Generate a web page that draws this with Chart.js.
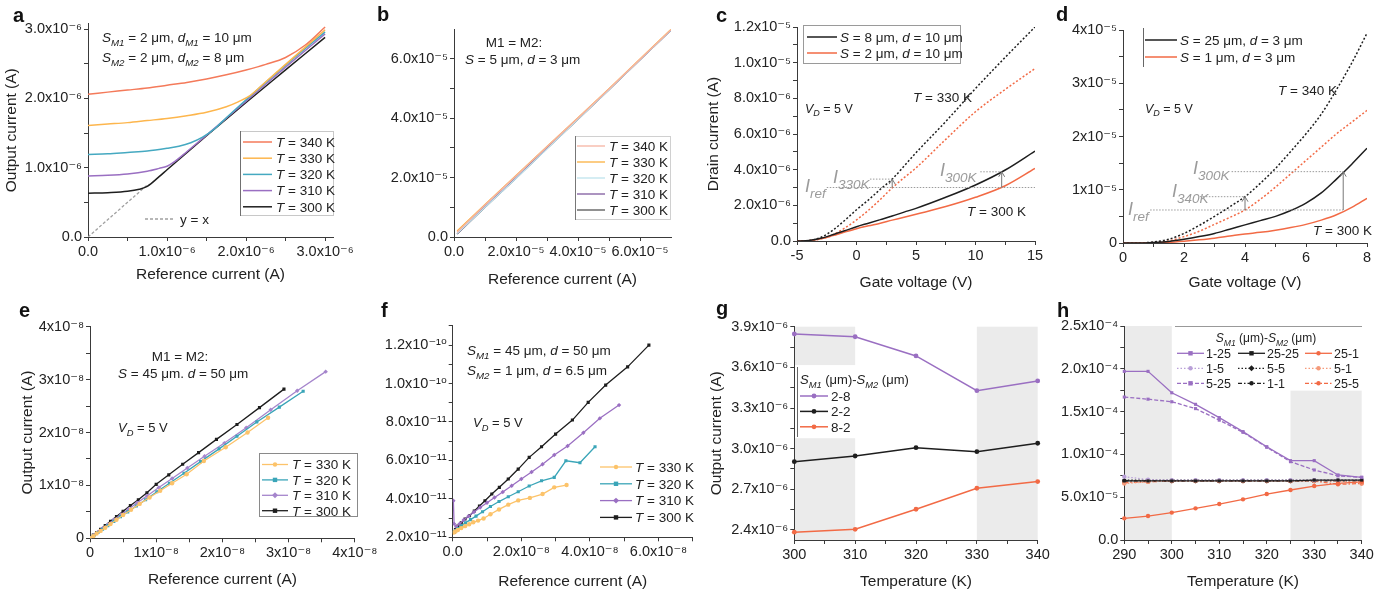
<!DOCTYPE html>
<html>
<head>
<meta charset="utf-8">
<script src="https://cdn.jsdelivr.net/npm/chart.js@4.4.1/dist/chart.umd.min.js"></script>
<style>
  html, body { margin: 0; background: #fff; }
  #wrap { position: relative; width: 1388px; height: 595px; overflow: hidden; }
  #wrap canvas { position: absolute; left: 0; top: 0; }
</style>
</head>
<body>
<div id="wrap"></div>
<script>
// ---- data ----
// a: current mirror, x and y in units of 1e-6 A
const aTemps = ['340', '330', '320', '310', '300'];
const aX340 = [0, 0.25, 0.5, 0.75, 1.0, 1.25, 1.5, 1.75, 2.0, 2.25, 2.5, 2.75, 3.0];
const aY340 = [2.06, 2.09, 2.12, 2.15, 2.19, 2.23, 2.28, 2.34, 2.41, 2.49, 2.59, 2.77, 3.03];
const aX330 = [0, 0.25, 0.5, 0.75, 1.0, 1.25, 1.5, 1.75, 1.9, 2.05, 2.25, 2.5, 2.75, 3.0];
const aY330 = [1.61, 1.63, 1.65, 1.68, 1.71, 1.75, 1.8, 1.88, 1.95, 2.04, 2.24, 2.49, 2.74, 2.99];
const aX320 = [0, 0.25, 0.5, 0.75, 1.0, 1.15, 1.3, 1.45, 1.6, 1.75, 2.0, 2.5, 3.0];
const aY320 = [1.19, 1.2, 1.22, 1.24, 1.28, 1.31, 1.36, 1.44, 1.56, 1.72, 1.98, 2.48, 2.96];
const aX310 = [0, 0.25, 0.5, 0.75, 0.9, 1.0, 1.1, 1.25, 1.5, 2.0, 2.5, 3.0];
const aY310 = [0.88, 0.89, 0.91, 0.95, 0.99, 1.02, 1.09, 1.23, 1.47, 1.96, 2.45, 2.93];
const aX300 = [0, 0.25, 0.5, 0.65, 0.75, 0.9, 1.0, 1.5, 2.0, 2.5, 3.0];
const aY300 = [0.63, 0.64, 0.66, 0.69, 0.73, 0.87, 0.97, 1.46, 1.94, 2.41, 2.88];
const aXref = [0, 0.75];
const aYref = [0, 0.75];

// b: units of 1e-5 A
const bX = [0.1, 1, 2, 3, 4, 5, 6, 7];
const bY340 = [0.16, 1.08, 2.06, 3.04, 4.01, 4.99, 5.99, 6.99];
const bY330 = [0.2, 1.1, 2.07, 3.05, 4.02, 5.0, 6.0, 7.0];
const bY320 = [0.12, 1.0, 1.97, 2.97, 3.97, 4.96, 5.97, 6.97];
const bY310 = [0.11, 1.02, 1.99, 2.99, 3.98, 4.97, 5.97, 6.97];
const bY300 = [0.1, 1.0, 1.98, 2.98, 3.97, 4.96, 5.97, 6.97];

// c: gate voltage (V) vs drain current (1e-6 A)
const cX = [-5, -4, -3, -2, -1, 0, 1, 2, 3, 4, 5, 7.5, 10, 12.5, 15];
const cY8hot = [0, 0.03, 0.2, 0.6, 1.15, 1.75, 2.3, 2.9, 3.47, 4.2, 4.95, 6.7, 8.55, 10.3, 12.0];
const cY2hot = [0, 0.02, 0.12, 0.35, 0.72, 1.18, 1.72, 2.33, 2.98, 3.55, 4.1, 5.7, 7.25, 8.5, 9.67];
const cY8cold = [0, 0.03, 0.15, 0.35, 0.57, 0.8, 1.0, 1.2, 1.4, 1.62, 1.83, 2.45, 3.14, 3.98, 5.04];
const cY2cold = [0, 0.02, 0.12, 0.3, 0.5, 0.69, 0.85, 1.0, 1.17, 1.33, 1.5, 1.93, 2.45, 3.1, 4.07];
const cGuides = [[-2.5, 15, 3.0], [1.13, 3.0, 3.47], [10.4, 12.2, 3.88]];
const cArrows = [[3.0, 3.0, 3.47], [12.2, 3.0, 3.88]];

// d: gate voltage (V) vs drain current (1e-5 A)
const dX = [0, 0.5, 1, 1.5, 2, 2.5, 3, 3.5, 4, 4.5, 5, 5.5, 6, 6.5, 7, 7.5, 8];
const dY25hot = [0, 0, 0.02, 0.07, 0.18, 0.33, 0.5, 0.68, 0.87, 1.12, 1.4, 1.72, 2.05, 2.42, 2.88, 3.38, 3.94];
const dY1hot = [0, 0, 0.01, 0.04, 0.12, 0.22, 0.35, 0.48, 0.62, 0.82, 1.05, 1.3, 1.55, 1.8, 2.05, 2.27, 2.49];
const dY25cold = [0, 0, 0.01, 0.03, 0.07, 0.12, 0.18, 0.26, 0.34, 0.42, 0.5, 0.61, 0.75, 0.94, 1.2, 1.48, 1.78];
const dY1cold = [0, 0, 0.005, 0.015, 0.035, 0.06, 0.09, 0.13, 0.17, 0.2, 0.24, 0.29, 0.35, 0.43, 0.53, 0.67, 0.84];
const dGuides = [[0.89, 7.22, 0.62], [2.52, 4.0, 0.87], [3.56, 7.22, 1.34]];
const dArrows = [[4.0, 0.62, 0.87], [7.22, 0.62, 1.34]];

// e: units of 1e-8 A
const eTemps = ['330', '320', '310', '300'];
const eX330 = [0, 0.05, 0.1, 0.16, 0.23, 0.31, 0.4, 0.5, 0.62, 0.75, 0.9, 1.06, 1.24, 1.46, 1.72, 2.05, 2.38, 2.69];
const eY330 = [0, 0.04, 0.09, 0.14, 0.2, 0.27, 0.35, 0.44, 0.54, 0.65, 0.77, 0.9, 1.04, 1.21, 1.46, 1.72, 2.0, 2.28];
const eX320 = [0, 0.06, 0.12, 0.19, 0.27, 0.36, 0.46, 0.57, 0.7, 0.84, 1.01, 1.2, 1.42, 1.67, 1.95, 2.22, 2.52, 2.86, 3.22];
const eY320 = [0, 0.05, 0.11, 0.17, 0.24, 0.32, 0.41, 0.5, 0.61, 0.73, 0.88, 1.04, 1.23, 1.45, 1.69, 1.93, 2.2, 2.48, 2.78];
const eX310 = [0, 0.06, 0.12, 0.19, 0.27, 0.36, 0.47, 0.58, 0.71, 0.86, 1.04, 1.24, 1.47, 1.73, 2.03, 2.36, 2.73, 3.13, 3.56];
const eY310 = [0, 0.06, 0.12, 0.19, 0.26, 0.35, 0.45, 0.55, 0.67, 0.8, 0.96, 1.13, 1.33, 1.55, 1.8, 2.09, 2.43, 2.79, 3.15];
const eX300 = [0, 0.05, 0.1, 0.16, 0.23, 0.31, 0.4, 0.5, 0.61, 0.73, 0.86, 1.0, 1.19, 1.4, 1.64, 1.91, 2.22, 2.56, 2.93];
const eY300 = [0, 0.06, 0.11, 0.17, 0.24, 0.32, 0.41, 0.51, 0.62, 0.73, 0.86, 1.02, 1.2, 1.4, 1.62, 1.87, 2.15, 2.47, 2.82];

// f: x in 1e-8 A, y in 1e-11 A
const fX330 = [0.03, 0.08, 0.15, 0.25, 0.36, 0.48, 0.6, 0.74, 0.9, 1.1, 1.35, 1.62, 1.91, 2.25, 2.62, 2.96, 3.32];
const fY330 = [2.25, 2.3, 2.38, 2.48, 2.58, 2.68, 2.78, 2.87, 2.98, 3.2, 3.45, 3.7, 3.92, 4.05, 4.25, 4.6, 4.72];
const fX320 = [0.03, 0.08, 0.15, 0.25, 0.37, 0.52, 0.68, 0.87, 1.1, 1.35, 1.62, 1.91, 2.23, 2.59, 2.96, 3.3, 3.71, 4.15];
const fY320 = [2.3, 2.35, 2.45, 2.6, 2.75, 2.92, 3.1, 3.33, 3.6, 3.86, 4.11, 4.37, 4.67, 4.94, 5.12, 5.98, 5.88, 6.71];
const fX310 = [0.02, 0.04, 0.1, 0.2, 0.32, 0.46, 0.62, 0.8, 1.0, 1.22, 1.46, 1.72, 2.0, 2.3, 2.62, 2.96, 3.35, 3.81, 4.29, 4.85];
const fY310 = [3.9, 2.7, 2.55, 2.7, 2.9, 3.1, 3.32, 3.55, 3.8, 4.07, 4.36, 4.68, 5.03, 5.4, 5.8, 6.28, 6.75, 7.44, 8.19, 8.88];
const fX300 = [0.04, 0.08, 0.15, 0.25, 0.36, 0.49, 0.63, 0.78, 0.94, 1.14, 1.36, 1.62, 1.91, 2.23, 2.59, 3.0, 3.49, 3.95, 4.46, 5.1, 5.72];
const fY300 = [2.25, 2.4, 2.58, 2.75, 2.95, 3.12, 3.37, 3.63, 3.9, 4.25, 4.6, 5.03, 5.55, 6.16, 6.71, 7.37, 8.1, 9.02, 9.92, 10.87, 12.0];

// g: temperature (K) vs output current (1e-6 A)
const gX = [300, 310, 320, 330, 340];
const gY28 = [3.846, 3.826, 3.684, 3.428, 3.50];
const gY22 = [2.904, 2.946, 3.007, 2.978, 3.04];
const gY82 = [2.384, 2.405, 2.553, 2.708, 2.757];
const gNames = ['2-8', '2-2', '8-2'];
const gShade = [[300, 310, 3.617, 3.9], [300, 310, 2.326, 3.077], [330, 340, 2.326, 3.9]];

// h: temperature (K) vs output current (1e-4 A)
const hX = [290, 295, 300, 305, 310, 315, 320, 325, 330, 335, 340];
const hY1_25 = [1.97, 1.97, 1.72, 1.585, 1.43, 1.266, 1.09, 0.927, 0.927, 0.76, 0.732];
const hY1_5 = [0.74, 0.705, 0.70, 0.70, 0.70, 0.70, 0.70, 0.70, 0.70, 0.70, 0.70];
const hY5_25 = [1.67, 1.645, 1.615, 1.535, 1.40, 1.258, 1.083, 0.915, 0.818, 0.75, 0.732];
const hY25_25 = [0.69, 0.69, 0.69, 0.69, 0.69, 0.69, 0.69, 0.69, 0.70, 0.70, 0.70];
const hY5_5 = [0.70, 0.70, 0.70, 0.70, 0.70, 0.70, 0.70, 0.70, 0.70, 0.70, 0.70];
const hY1_1 = [0.69, 0.69, 0.69, 0.69, 0.69, 0.69, 0.69, 0.69, 0.69, 0.69, 0.69];
const hY25_1 = [0.253, 0.28, 0.32, 0.37, 0.42, 0.475, 0.537, 0.584, 0.63, 0.662, 0.68];
const hY5_1 = [0.66, 0.68, 0.69, 0.69, 0.69, 0.69, 0.69, 0.69, 0.69, 0.69, 0.67];
const hY25_5 = [0.67, 0.68, 0.69, 0.69, 0.69, 0.69, 0.69, 0.69, 0.69, 0.65, 0.66];
const hNames = ['1-25', '25-25', '25-1', '1-5', '5-5', '5-1', '5-25', '1-1', '25-5'];
const hShade = [[290, 300, 0, 2.5], [325, 340, 0, 1.745]];

// ---- styling ----
const W = 1388, H = 595;
const FF = '"Liberation Sans", Arial, "DejaVu Sans", sans-serif';
const INK = '#222';
const AXIS = '#3a3a3a';
const GREY = '#9b9b9b';
const RED = '#f26a45', YEL = '#fdb64d', CYA = '#45a9c1', PUR = '#9a6fc2', BLK = '#1e1e1e';

function ser(xs, ys, color, o = {}) {
  return Object.assign({
    data: xs.map((x, i) => ({x, y: ys[i]})),
    showLine: true, borderColor: color, backgroundColor: color, pointBackgroundColor: color,
    borderWidth: 1.5, pointRadius: 0, pointHoverRadius: 0, pointBorderWidth: 0, tension: 0
  }, o);
}
const smooth = {tension: 0.4, cubicInterpolationMode: 'monotone'};

function makeAxis(o, horizontal) {
  const all = o.major.concat(o.minor || []).sort((a, b) => a - b);
  return {
    type: 'linear', min: o.min, max: o.max,
    border: {display: true, color: AXIS, width: 1},
    grid: {display: true, drawOnChartArea: false, drawTicks: true, tickLength: 4, color: AXIS},
    ticks: {
      autoSkip: false, maxRotation: 0, minRotation: 0, padding: 2, color: INK,
      font: {family: FF, size: 14.5},
      callback: v => {
        const i = o.major.findIndex(m => Math.abs(m - v) < 1e-6);
        return i < 0 ? '' : o.labels[i];
      }
    },
    afterBuildTicks: s => { s.ticks = all.map(v => ({value: v})); },
    afterFit: s => { if (horizontal) s.height = o.fit; else s.width = o.fit; },
    title: {display: !!o.title, text: o.title || '', padding: 0, color: INK, font: {family: FF, size: 15.5}}
  };
}

function panel(area, xo, yo, datasets, hooks) {
  const [L, T, R, B] = area;
  const cv = document.createElement('canvas');
  cv.width = W; cv.height = H;
  document.getElementById('wrap').appendChild(cv);
  return new Chart(cv, {
    type: 'scatter',
    data: {datasets},
    options: {
      responsive: false, animation: false, events: [],
      layout: {padding: {left: L - yo.fit, top: T, right: W - R, bottom: H - B - xo.fit}},
      plugins: {legend: {display: false}, tooltip: {enabled: false}},
      scales: {x: makeAxis(xo, true), y: makeAxis(yo, false)}
    },
    plugins: [{
      id: 'decor',
      beforeDraw: c => hooks.under && hooks.under(c),
      afterDatasetsDraw: c => hooks.mid && hooks.mid(c),
      afterDraw: c => hooks.over && hooks.over(c)
    }]
  });
}

// text with italic / subscript parts; y is the visual middle
function rich(ctx, x, y, parts, size, opt = {}) {
  const sub = opt.sub || 0.72;
  ctx.save();
  ctx.fillStyle = opt.color || INK;
  ctx.textBaseline = 'alphabetic';
  const segs = parts.map(p => {
    const [t, st] = typeof p === 'string' ? [p, ''] : p;
    const s = st.includes('s');
    const fs = s ? size * sub : size;
    const font = (st.includes('i') ? 'italic ' : '') + (st.includes('b') ? 'bold ' : '') + fs + 'px ' + FF;
    ctx.font = font;
    return {t, font, w: ctx.measureText(t).width, dy: s ? size * 0.3 : 0};
  });
  const total = segs.reduce((a, g) => a + g.w, 0);
  let cx = opt.align === 'center' ? x - total / 2 : x;
  const base = y + size * 0.36;
  for (const g of segs) { ctx.font = g.font; ctx.fillText(g.t, cx, base + g.dy); cx += g.w; }
  ctx.restore();
}
function letter(ctx, t, x, y) { rich(ctx, x, y, [[t, 'b']], 20, {color: '#111'}); }

function mark(ctx, x, y, style, r, color) {
  ctx.fillStyle = color;
  ctx.beginPath();
  if (style === 'rect') ctx.rect(x - r, y - r, 2 * r, 2 * r);
  else if (style === 'rectRot') {
    ctx.moveTo(x, y - r * 1.35); ctx.lineTo(x + r * 1.35, y); ctx.lineTo(x, y + r * 1.35); ctx.lineTo(x - r * 1.35, y); ctx.closePath();
  } else ctx.arc(x, y, r, 0, Math.PI * 2);
  ctx.fill();
}
function sample(ctx, x1, x2, y, ds) {
  ctx.save();
  ctx.strokeStyle = ds.borderColor; ctx.lineWidth = ds.borderWidth;
  ctx.setLineDash(ds.borderDash || []);
  ctx.beginPath(); ctx.moveTo(x1, y); ctx.lineTo(x2, y); ctx.stroke();
  ctx.setLineDash([]);
  if (ds.pointRadius) mark(ctx, (x1 + x2) / 2, y, ds.pointStyle, ds.pointRadius, ds.pointBackgroundColor);
  ctx.restore();
}
function frame(ctx, x1, y1, x2, y2, color, left) {
  ctx.save(); ctx.lineWidth = 1; ctx.strokeStyle = color;
  ctx.strokeRect(x1 + 0.5, y1 + 0.5, x2 - x1, y2 - y1);
  if (left) { ctx.strokeStyle = left; ctx.beginPath(); ctx.moveTo(x1 + 0.5, y1); ctx.lineTo(x1 + 0.5, y2 + 1); ctx.stroke(); }
  ctx.restore();
}
function rule(ctx, x1, y1, x2, y2, color) {
  ctx.save(); ctx.strokeStyle = color; ctx.lineWidth = 1;
  ctx.beginPath(); ctx.moveTo(x1, y1); ctx.lineTo(x2, y2); ctx.stroke(); ctx.restore();
}
function shade(c, rects) {
  const {x: sx, y: sy} = c.scales, ctx = c.ctx;
  ctx.save(); ctx.fillStyle = '#ebebeb';
  rects.forEach(([x1, x2, y1, y2]) => {
    const px = sx.getPixelForValue(x1), py = sy.getPixelForValue(y2);
    ctx.fillRect(px, py, sx.getPixelForValue(x2) - px, sy.getPixelForValue(y1) - py);
  });
  ctx.restore();
}
function guides(c, lines, arrows) {
  const {x: sx, y: sy} = c.scales, ctx = c.ctx;
  ctx.save();
  ctx.strokeStyle = GREY; ctx.lineWidth = 1; ctx.setLineDash([1.5, 1.5]);
  lines.forEach(([x1, x2, y]) => {
    ctx.beginPath();
    ctx.moveTo(sx.getPixelForValue(x1), sy.getPixelForValue(y));
    ctx.lineTo(sx.getPixelForValue(x2), sy.getPixelForValue(y));
    ctx.stroke();
  });
  ctx.setLineDash([]); ctx.strokeStyle = '#777';
  arrows.forEach(([x, y1, y2]) => {
    const px = sx.getPixelForValue(x), p1 = sy.getPixelForValue(y1), p2 = sy.getPixelForValue(y2);
    ctx.beginPath(); ctx.moveTo(px, p1); ctx.lineTo(px, p2); ctx.stroke();
    ctx.beginPath(); ctx.moveTo(px - 3, p2 + 5); ctx.lineTo(px, p2); ctx.lineTo(px + 3, p2 + 5); ctx.stroke();
  });
  ctx.restore();
}
const Tlab = t => [['T', 'i'], ' = ' + t + ' K'];
const Ilab = s => [['I', 'i'], [s, 'si']];
const VD = [['V', 'i'], ['D', 'si'], ' = 5 V'];

// ---- a ----
const aSets = [
  ser(aX340, aY340, '#f47a5a', smooth), ser(aX330, aY330, YEL, smooth), ser(aX320, aY320, CYA, smooth),
  ser(aX310, aY310, PUR, smooth), ser(aX300, aY300, BLK, smooth),
  ser(aXref, aYref, '#a0a0a0', {borderDash: [3, 2], borderWidth: 1.3})
];
panel([88, 23.5, 333, 237],
  {min: 0, max: 3.1, major: [0, 1, 2, 3], labels: ['0.0', '1.0x10⁻⁶', '2.0x10⁻⁶', '3.0x10⁻⁶'], minor: [0.5, 1.5, 2.5], fit: 47.3, title: 'Reference current (A)'},
  {min: 0, max: 3.08, major: [0, 1, 2, 3], labels: ['0.0', '1.0x10⁻⁶', '2.0x10⁻⁶', '3.0x10⁻⁶'], minor: [0.5, 1.5, 2.5], fit: 85.3, title: 'Output current (A)'},
  aSets, {
    over: c => {
      const ctx = c.ctx;
      letter(ctx, 'a', 13, 15);
      rich(ctx, 102, 37, [['S', 'i'], ['M1', 'si'], ' = 2 μm, ', ['d', 'i'], ['M1', 'si'], ' = 10 μm'], 13.5);
      rich(ctx, 102, 57, [['S', 'i'], ['M2', 'si'], ' = 2 μm, ', ['d', 'i'], ['M2', 'si'], ' = 8 μm'], 13.5);
      frame(ctx, 240, 131, 333, 215, '#c8c8c8', '#707070');
      aTemps.forEach((t, i) => {
        const y = 142 + i * 16.2;
        sample(ctx, 243, 272, y, aSets[i]);
        rich(ctx, 276, y, Tlab(t), 13.5);
      });
      sample(ctx, 145, 175, 219, aSets[5]);
      rich(ctx, 180, 219, ['y = x'], 13.5);
    }
  });

// ---- b ----
const bSets = [
  ser(bX, bY340, '#f6b3a3', {borderWidth: 1.3}), ser(bX, bY330, '#fbb040', {borderWidth: 1.3}),
  ser(bX, bY320, '#bfe3ec', {borderWidth: 1.3}), ser(bX, bY310, '#7f5a9e', {borderWidth: 1.3}),
  ser(bX, bY300, '#555', {borderWidth: 1.3})
];
panel([454, 29.3, 671, 237],
  {min: 0, max: 7, major: [0, 2, 4, 6], labels: ['0.0', '2.0x10⁻⁵', '4.0x10⁻⁵', '6.0x10⁻⁵'], minor: [1, 3, 5], fit: 52.3, title: 'Reference current (A)'},
  {min: 0, max: 7, major: [0, 2, 4, 6], labels: ['0.0', '2.0x10⁻⁵', '4.0x10⁻⁵', '6.0x10⁻⁵'], minor: [1, 3, 5], fit: 80},
  bSets, {
    over: c => {
      const ctx = c.ctx;
      letter(ctx, 'b', 377, 14);
      rich(ctx, 514, 42, ['M1 = M2:'], 13.5, {align: 'center'});
      rich(ctx, 465, 59, [['S', 'i'], ' = 5 μm, ', ['d', 'i'], ' = 3 μm'], 13.5);
      frame(ctx, 575, 136, 670, 219, '#d0d0d0', '#777');
      aTemps.forEach((t, i) => {
        const y = 146 + i * 16;
        sample(ctx, 577, 605, y, bSets[i]);
        rich(ctx, 609, y, Tlab(t), 13.5);
      });
    }
  });

// ---- c ----
const cSets = [
  ser(cX, cY8cold, BLK, smooth), ser(cX, cY2cold, RED, smooth),
  ser(cX, cY8hot, BLK, Object.assign({borderDash: [2, 2]}, smooth)),
  ser(cX, cY2hot, RED, Object.assign({borderDash: [2, 2]}, smooth))
];
panel([797, 27, 1035, 241],
  {min: -5, max: 15, major: [-5, 0, 5, 10, 15], labels: ['-5', '0', '5', '10', '15'], minor: [-2.5, 2.5, 7.5, 12.5], fit: 51.3, title: 'Gate voltage (V)'},
  {min: 0, max: 12, major: [0, 2, 4, 6, 8, 10, 12], labels: ['0.0', '2.0x10⁻⁶', '4.0x10⁻⁶', '6.0x10⁻⁶', '8.0x10⁻⁶', '1.0x10⁻⁵', '1.2x10⁻⁵'], minor: [1, 3, 5, 7, 9, 11], fit: 92.6, title: 'Drain current (A)'},
  cSets, {
    mid: c => guides(c, cGuides, cArrows),
    over: c => {
      const ctx = c.ctx;
      letter(ctx, 'c', 716, 15);
      frame(ctx, 803, 25, 960, 63, '#9a9a9a');
      sample(ctx, 807, 837, 37, cSets[0]);
      rich(ctx, 840, 37, [['S', 'i'], ' = 8 μm, ', ['d', 'i'], ' = 10 μm'], 13.5);
      sample(ctx, 807, 837, 53, cSets[1]);
      rich(ctx, 840, 53, [['S', 'i'], ' = 2 μm, ', ['d', 'i'], ' = 10 μm'], 13.5);
      rich(ctx, 913, 97, Tlab('330'), 13.5);
      rich(ctx, 967, 211, Tlab('300'), 13.5);
      rich(ctx, 805, 108, VD, 12.5);
      rich(ctx, 805, 186, Ilab('ref'), 18, {color: GREY, sub: 0.75});
      rich(ctx, 833, 177, Ilab('330K'), 18, {color: GREY, sub: 0.75});
      rich(ctx, 940, 170, Ilab('300K'), 18, {color: GREY, sub: 0.75});
    }
  });

// ---- d ----
const dSets = [
  ser(dX, dY25cold, BLK, smooth), ser(dX, dY1cold, RED, smooth),
  ser(dX, dY25hot, BLK, Object.assign({borderDash: [2, 2]}, smooth)),
  ser(dX, dY1hot, RED, Object.assign({borderDash: [2, 2]}, smooth))
];
panel([1123, 30, 1367, 243],
  {min: 0, max: 8, major: [0, 2, 4, 6, 8], labels: ['0', '2', '4', '6', '8'], minor: [1, 3, 5, 7], fit: 49.3, title: 'Gate voltage (V)'},
  {min: 0, max: 4, major: [0, 1, 2, 3, 4], labels: ['0', '1x10⁻⁵', '2x10⁻⁵', '3x10⁻⁵', '4x10⁻⁵'], minor: [0.5, 1.5, 2.5, 3.5], fit: 80},
  dSets, {
    mid: c => guides(c, dGuides, dArrows),
    over: c => {
      const ctx = c.ctx;
      letter(ctx, 'd', 1056, 14);
      rule(ctx, 1143.5, 28, 1143.5, 67, '#666');
      sample(ctx, 1145, 1177, 40, dSets[0]);
      rich(ctx, 1180, 40, [['S', 'i'], ' = 25 μm, ', ['d', 'i'], ' = 3 μm'], 13.5);
      sample(ctx, 1145, 1177, 57, dSets[1]);
      rich(ctx, 1180, 57, [['S', 'i'], ' = 1 μm, ', ['d', 'i'], ' = 3 μm'], 13.5);
      rich(ctx, 1278, 90, Tlab('340'), 13.5);
      rich(ctx, 1313, 230, Tlab('300'), 13.5);
      rich(ctx, 1145, 108, VD, 12.5);
      rich(ctx, 1193, 168, Ilab('300K'), 18, {color: GREY, sub: 0.75});
      rich(ctx, 1172, 191, Ilab('340K'), 18, {color: GREY, sub: 0.75});
      rich(ctx, 1128, 209, Ilab('ref'), 18, {color: GREY, sub: 0.75});
    }
  });

// ---- e ----
const eMark = {pointRadius: 2.2, borderWidth: 1.3};
const eSets = [
  ser(eX330, eY330, '#fcc36a', eMark), ser(eX320, eY320, '#3aa5b8', Object.assign({pointStyle: 'rect'}, eMark)),
  ser(eX310, eY310, '#a585cc', Object.assign({pointStyle: 'rectRot'}, eMark)), ser(eX300, eY300, BLK, Object.assign({pointStyle: 'rect'}, eMark))
];
panel([90, 326.7, 354.8, 538.3],
  {min: 0, max: 4, major: [0, 1, 2, 3, 4], labels: ['0', '1x10⁻⁸', '2x10⁻⁸', '3x10⁻⁸', '4x10⁻⁸'], minor: [0.5, 1.5, 2.5, 3.5], fit: 51, title: 'Reference current (A)'},
  {min: 0, max: 4, major: [0, 1, 2, 3, 4], labels: ['0', '1x10⁻⁸', '2x10⁻⁸', '3x10⁻⁸', '4x10⁻⁸'], minor: [0.5, 1.5, 2.5, 3.5], fit: 71.3, title: 'Output current (A)'},
  eSets, {
    over: c => {
      const ctx = c.ctx;
      letter(ctx, 'e', 19, 310);
      rich(ctx, 180, 356, ['M1 = M2:'], 13.5, {align: 'center'});
      rich(ctx, 118, 373, [['S', 'i'], ' = 45 μm. ', ['d', 'i'], ' = 50 μm'], 13.5);
      rich(ctx, 118, 427, VD, 13);
      frame(ctx, 259, 453, 357, 516, '#8a8a8a');
      eTemps.forEach((t, i) => {
        const y = 464.5 + i * 15.4;
        sample(ctx, 262, 288, y, eSets[i]);
        rich(ctx, 292, y, Tlab(t), 13.5);
      });
    }
  });

// ---- f ----
const fSets = [
  ser(fX330, fY330, '#fcc36a', eMark), ser(fX320, fY320, '#3aa5b8', Object.assign({pointStyle: 'rect'}, eMark)),
  ser(fX310, fY310, PUR, Object.assign({pointStyle: 'rectRot'}, eMark)), ser(fX300, fY300, BLK, Object.assign({pointStyle: 'rect'}, eMark))
];
panel([452.7, 325.9, 692.8, 537.3],
  {min: 0, max: 7, major: [0, 2, 4, 6], labels: ['0.0', '2.0x10⁻⁸', '4.0x10⁻⁸', '6.0x10⁻⁸'], minor: [1, 3, 5, 7], fit: 54, title: 'Reference current (A)'},
  {min: 2, max: 13, major: [2, 4, 6, 8, 10, 12], labels: ['2.0x10⁻¹¹', '4.0x10⁻¹¹', '6.0x10⁻¹¹', '8.0x10⁻¹¹', '1.0x10⁻¹⁰', '1.2x10⁻¹⁰'], minor: [3, 5, 7, 9, 11, 13], fit: 80},
  fSets, {
    over: c => {
      const ctx = c.ctx;
      letter(ctx, 'f', 381, 310);
      rich(ctx, 467, 350, [['S', 'i'], ['M1', 'si'], ' = 45 μm, ', ['d', 'i'], ' = 50 μm'], 13.5);
      rich(ctx, 467, 370, [['S', 'i'], ['M2', 'si'], ' = 1 μm, ', ['d', 'i'], ' = 6.5 μm'], 13.5);
      rich(ctx, 473, 422, VD, 13);
      eTemps.forEach((t, i) => {
        const y = 467 + i * 16.8;
        sample(ctx, 600, 632, y, fSets[i]);
        rich(ctx, 635, y, Tlab(t), 13.5);
      });
    }
  });

// ---- g ----
const gMark = {pointRadius: 2.4, borderWidth: 1.5, clip: false};
const gSets = [
  ser(gX, gY28, PUR, gMark), ser(gX, gY22, BLK, gMark), ser(gX, gY82, RED, gMark)
];
panel([794.3, 326.7, 1037.7, 540],
  {min: 300, max: 340, major: [300, 310, 320, 330, 340], labels: ['300', '310', '320', '330', '340'], minor: [305, 315, 325, 335], fit: 51.3, title: 'Temperature (K)'},
  {min: 2.326, max: 3.9, major: [2.4, 2.7, 3.0, 3.3, 3.6, 3.9], labels: ['2.4x10⁻⁶', '2.7x10⁻⁶', '3.0x10⁻⁶', '3.3x10⁻⁶', '3.6x10⁻⁶', '3.9x10⁻⁶'], minor: [2.55, 2.85, 3.15, 3.45, 3.75], fit: 86.9, title: 'Output current (A)'},
  gSets, {
    under: c => shade(c, gShade),
    over: c => {
      const ctx = c.ctx;
      letter(ctx, 'g', 716, 308);
      rule(ctx, 797.5, 367, 797.5, 437, '#666');
      rich(ctx, 800, 379, [['S', 'i'], ['M1', 'si'], ' (μm)-', ['S', 'i'], ['M2', 'si'], ' (μm)'], 13);
      gNames.forEach((n, i) => {
        const y = 396 + i * 15.4;
        sample(ctx, 800, 828, y, gSets[i]);
        rich(ctx, 831, y, [n], 13.5);
      });
    }
  });

// ---- h ----
const hMark = {pointRadius: 2.2, borderWidth: 1.3, clip: false};
const hSets = [
  ser(hX, hY1_25, PUR, Object.assign({pointStyle: 'rect'}, hMark)),
  ser(hX, hY25_25, BLK, Object.assign({pointStyle: 'rect'}, hMark)),
  ser(hX, hY25_1, RED, hMark),
  ser(hX, hY1_5, '#b9a0d8', Object.assign({borderDash: [1.5, 2]}, hMark)),
  ser(hX, hY5_5, BLK, Object.assign({borderDash: [1.5, 2], pointStyle: 'rectRot'}, hMark)),
  ser(hX, hY5_1, '#f59a7a', Object.assign({borderDash: [1.5, 2]}, hMark)),
  ser(hX, hY5_25, PUR, Object.assign({borderDash: [4, 2], pointStyle: 'rect'}, hMark)),
  ser(hX, hY1_1, BLK, Object.assign({borderDash: [4, 2, 1.5, 2]}, hMark)),
  ser(hX, hY25_5, RED, Object.assign({borderDash: [4, 2, 1.5, 2]}, hMark))
];
panel([1124.3, 326, 1361.7, 540],
  {min: 290, max: 340, major: [290, 300, 310, 320, 330, 340], labels: ['290', '300', '310', '320', '330', '340'], minor: [295, 305, 315, 325, 335], fit: 51.3, title: 'Temperature (K)'},
  {min: 0, max: 2.5, major: [0, 0.5, 1, 1.5, 2, 2.5], labels: ['0.0', '5.0x10⁻⁵', '1.0x10⁻⁴', '1.5x10⁻⁴', '2.0x10⁻⁴', '2.5x10⁻⁴'], minor: [0.25, 0.75, 1.25, 1.75, 2.25], fit: 80},
  hSets, {
    under: c => shade(c, hShade),
    over: c => {
      const ctx = c.ctx;
      letter(ctx, 'h', 1057, 310);
      rule(ctx, 1175, 326.5, 1362, 326.5, '#999');
      rich(ctx, 1266, 338, [['S', 'i'], ['M1', 'si'], ' (μm)-', ['S', 'i'], ['M2', 'si'], ' (μm)'], 12, {align: 'center'});
      const cols = [1177, 1238, 1305];
      hNames.forEach((n, i) => {
        const x = cols[i % 3], y = 353.3 + Math.floor(i / 3) * 15;
        sample(ctx, x, x + 27, y, hSets[i]);
        rich(ctx, x + 29, y, [n], 12.5);
      });
    }
  });
</script>
</body>
</html>
